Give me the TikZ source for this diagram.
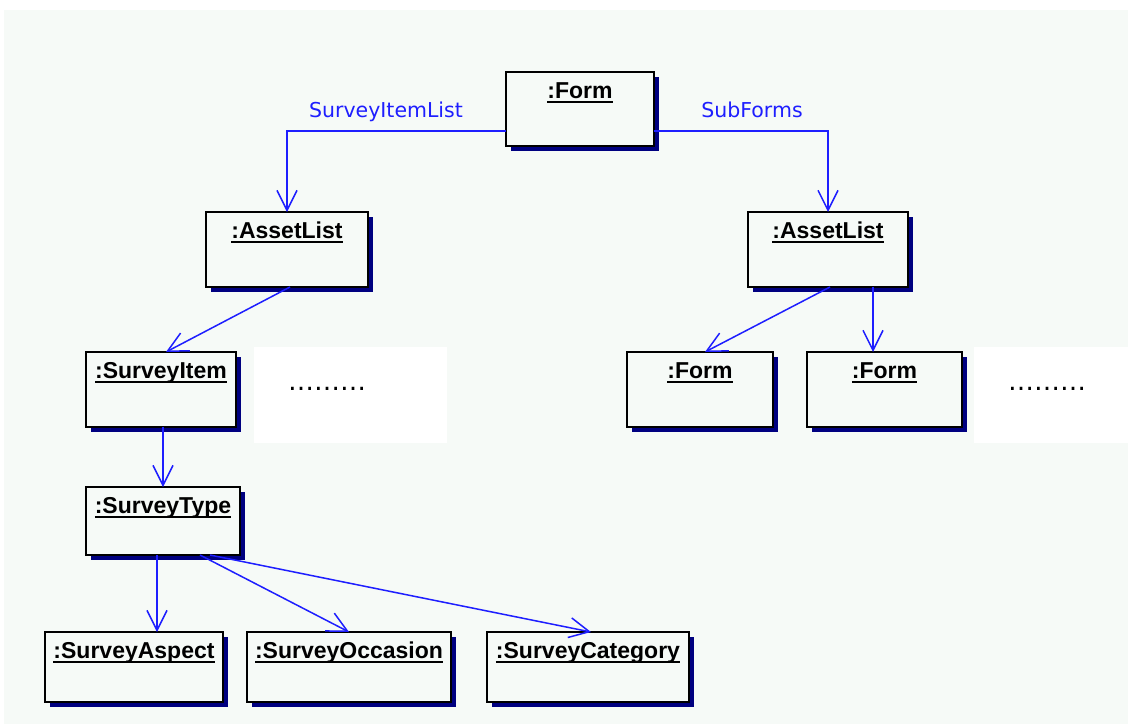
\documentclass[tikz,border=0pt]{standalone}
\usepackage{fontspec}
\setmainfont{Liberation Sans}
\newfontfamily\labelfont{DejaVu Sans}
\usetikzlibrary{arrows.meta}

\definecolor{paper}{HTML}{F6FAF7}
\definecolor{dropnavy}{HTML}{000080}
\definecolor{link}{HTML}{1E1EFF}

% bold object name with an underline just below the baseline
\newcommand\objname[1]{\setbox0\hbox{\bfseries #1}\rlap{\vrule width\wd0 height -3pt depth 5pt}\box0}

\tikzset{
  objrect/.style={draw=black, line width=1.6pt, fill=paper, inner sep=0pt, outer sep=0pt, anchor=north west},
  objtext/.style={anchor=base, inner sep=0pt, font=\fontsize{23}{26}\selectfont},
  conn/.style={draw=link, line width=1.5pt, -{Straight Barb[length=20pt,width=20pt,line width=1.5pt]}},
  rolename/.style={anchor=base, inner sep=0pt, text=link, font=\labelfont\fontsize{20.5}{24}\selectfont},
  more/.style={anchor=base, inner sep=0pt, font=\labelfont\fontsize{26}{30}\selectfont},
}

% \objbox{name}{x1}{y1}{x2}{y2}{text}: object with drop shadow
\newcommand\objbox[6]{%
  \fill[fill=dropnavy] (#2+5,#3+5) rectangle (#4+5,#5+5);
  \node[objrect, minimum width=#4pt-#2pt, minimum height=#5pt-#3pt] (#1) at (#2,#3) {};
  \node[objtext] (#1-t) at ([yshift=-26pt]#1.north) {\objname{#6}};
}

\begin{document}
\begin{tikzpicture}[x=1pt, y=-1pt]
  \useasboundingbox (0,0) rectangle (1128,724);
  \fill[white] (0,0) rectangle (1128,724);
  \fill[paper] (4,10) rectangle (1128,724);

  % placeholders for further elements
  \fill[white] (254,347) rectangle (447,443);
  \fill[white] (974,347) rectangle (1128,443);
  \node[more] (dotsA) at (327,390) {………};
  \node[more] (dotsB) at (1047,390) {………};

  % objects
  \objbox{form}{506}{72}{654}{146}{:Form}
  \objbox{alA}{206}{212}{368}{287}{:AssetList}
  \objbox{alB}{748}{212}{908}{287}{:AssetList}
  \objbox{item}{86}{352}{236}{427}{:SurveyItem}
  \objbox{subA}{627}{352}{773}{427}{:Form}
  \objbox{subB}{807}{352}{962}{427}{:Form}
  \objbox{type}{86}{487}{240}{555}{:SurveyType}
  \objbox{aspect}{45}{632}{223}{702}{:SurveyAspect}
  \objbox{occasion}{247}{632}{451}{702}{:SurveyOccasion}
  \objbox{category}{487}{632}{689}{702}{:SurveyCategory}

  % links
  \draw[conn] ([yshift=-22pt]form.west) -| (alA.north);
  \draw[conn] ([yshift=-22pt]form.east) -| (alB.north);
  \node[rolename] (lblItems) at (386,117) {SurveyItemList};
  \node[rolename] (lblSub) at (752,117) {SubForms};

  \draw[conn] ([xshift=3pt]alA.south) -- ([xshift=5pt]item.north);
  \draw[conn] (type.north |- item.south) -- (type.north);

  \draw[conn] ([xshift=2pt]alB.south) -- ([xshift=5pt]subA.north);
  \draw[conn] ([xshift=45pt]alB.south) -- ([xshift=45pt]alB.south |- subB.north);

  \draw[conn] ([xshift=-6pt]type.south) -- ([xshift=-6pt]type.south |- aspect.north);
  \draw[conn] ([xshift=37pt]type.south) -- (occasion.north);
  \draw[conn] ([xshift=47pt]type.south) -- ([xshift=3pt]category.north);
\end{tikzpicture}
\end{document}
